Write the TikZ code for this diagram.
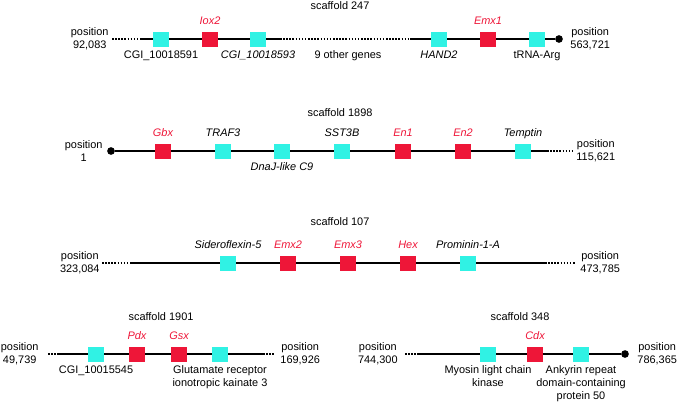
\documentclass[tikz,border=0pt]{standalone}
\usepackage{fontspec}
\setmainfont{Liberation Sans}
\usetikzlibrary{positioning}
\definecolor{hxRed}{RGB}{238,22,56}
\definecolor{nbCyan}{RGB}{48,242,228}
\newcommand\lblsize{\fontsize{9.3}{11}\selectfont}
\tikzset{
  gene/.style={rectangle, inner sep=0pt, minimum width=13.6pt, minimum height=12.75pt},
  hox/.style={gene, fill=hxRed},
  nbr/.style={gene, fill=nbCyan},
  backbone/.style={line width=1.25pt},
  gapline/.style={line width=1.25pt, dash pattern=on 1.3pt off 1.35pt},
  enddot/.style={circle, fill=black, inner sep=0pt, minimum size=6.5pt},
  posnote/.style={align=center, inner sep=1pt, font=\lblsize},
  ital/.style={font=\lblsize\itshape},
  hoxname/.style={font=\lblsize\itshape, text=hxRed},
  uplbl/.style={above=5.5pt of #1.north, anchor=base, inner sep=0pt},
  downlbl/.style={below=3pt of #1.south, inner sep=0pt, align=center}
}
\begin{document}
\begin{tikzpicture}[x=0.85pt, y=-0.85pt, font=\lblsize]
  \useasboundingbox (0,0) rectangle (680,405);

  % scaffold 247
  \node (t247) at (340,6) {scaffold 247};
  \node[posnote, anchor=east] (p247a) at (110,39) {position\\92,083};
  \node[posnote, anchor=west] (p247b) at (569,39) {position\\563,721};
  \coordinate (s247a) at (112,39);
  \coordinate (s247b) at (140,39);
  \coordinate (s247c) at (280,39);
  \coordinate (s247d) at (410,39);
  \node[enddot] (e247) at (559,39) {};
  \node[nbr] (cgiA) at (161,39) {};
  \node[hox] (iox) at (210,39) {};
  \node[nbr] (cgiB) at (258,39) {};
  \node[nbr] (hand) at (439,39) {};
  \node[hox] (emxA) at (488,39) {};
  \node[nbr] (trna) at (537,39) {};
  \draw[gapline] (s247a) -- (s247b);
  \draw[backbone] (s247b) -- (cgiA) -- (iox) -- (cgiB) -- (s247c);
  \draw[gapline] (s247c) -- (s247d);
  \draw[backbone] (s247d) -- (hand) -- (emxA) -- (trna) -- (e247);
  \node[downlbl=cgiA] (cgiA-l) {CGI\_10018591};
  \node[uplbl=iox, hoxname] (iox-l) {Iox2};
  \node[downlbl=cgiB, ital] (cgiB-l) {CGI\_10018593};
  \node[inner sep=0pt, anchor=north] (other-l) at (348,50) {9 other genes};
  \node[downlbl=hand, ital] (hand-l) {HAND2};
  \node[uplbl=emxA, hoxname] (emxA-l) {Emx1};
  \node[downlbl=trna] (trna-l) {tRNA-Arg};

  % scaffold 1898
  \node (t1898) at (340,113) {scaffold 1898};
  \node[posnote, anchor=east] (p1898a) at (104,151) {position\\1};
  \node[posnote, anchor=west] (p1898b) at (575,151) {position\\115,621};
  \node[enddot] (e1898) at (111,151) {};
  \coordinate (s1898a) at (547,151);
  \coordinate (s1898b) at (572,151);
  \node[hox] (gbx) at (163,151) {};
  \node[nbr] (traf) at (223,151) {};
  \node[nbr] (dnaj) at (282,151) {};
  \node[nbr] (sst) at (342,151) {};
  \node[hox] (enA) at (403,151) {};
  \node[hox] (enB) at (463,151) {};
  \node[nbr] (tempt) at (523,151) {};
  \draw[backbone] (e1898) -- (gbx) -- (traf) -- (dnaj) -- (sst) -- (enA) -- (enB) -- (tempt) -- (s1898a);
  \draw[gapline] (s1898a) -- (s1898b);
  \node[uplbl=gbx, hoxname] (gbx-l) {Gbx};
  \node[uplbl=traf, ital] (traf-l) {TRAF3};
  \node[downlbl=dnaj, ital] (dnaj-l) {DnaJ-like C9};
  \node[uplbl=sst, ital] (sst-l) {SST3B};
  \node[uplbl=enA, hoxname] (enA-l) {En1};
  \node[uplbl=enB, hoxname] (enB-l) {En2};
  \node[uplbl=tempt, ital] (tempt-l) {Temptin};

  % scaffold 107
  \node (t107) at (340,222) {scaffold 107};
  \node[posnote, anchor=east] (p107a) at (101,263) {position\\323,084};
  \node[posnote, anchor=west] (p107b) at (579,263) {position\\473,785};
  \coordinate (s107a) at (102,263);
  \coordinate (s107b) at (132,263);
  \coordinate (s107c) at (545,263);
  \coordinate (s107d) at (575,263);
  \node[nbr] (sfxn) at (228,263) {};
  \node[hox] (emxB) at (288,263) {};
  \node[hox] (emxC) at (348,263) {};
  \node[hox] (hex) at (408,263) {};
  \node[nbr] (prom) at (468,263) {};
  \draw[gapline] (s107a) -- (s107b);
  \draw[backbone] (s107b) -- (sfxn) -- (emxB) -- (emxC) -- (hex) -- (prom) -- (s107c);
  \draw[gapline] (s107c) -- (s107d);
  \node[uplbl=sfxn, ital] (sfxn-l) {Sideroflexin-5};
  \node[uplbl=emxB, hoxname] (emxB-l) {Emx2};
  \node[uplbl=emxC, hoxname] (emxC-l) {Emx3};
  \node[uplbl=hex, hoxname] (hex-l) {Hex};
  \node[uplbl=prom, ital] (prom-l) {Prominin-1-A};

  % scaffold 1901
  \node (t1901) at (161,317) {scaffold 1901};
  \node[posnote, anchor=east] (p1901a) at (40,354) {position\\49,739};
  \node[posnote, anchor=west] (p1901b) at (279,354) {position\\169,926};
  \coordinate (s1901a) at (48,354);
  \coordinate (s1901b) at (57,354);
  \coordinate (s1901c) at (263,354);
  \coordinate (s1901d) at (275,354);
  \node[nbr] (cgiC) at (96,354) {};
  \node[hox] (pdx) at (137,354) {};
  \node[hox] (gsx) at (179,354) {};
  \node[nbr] (grik) at (220,354) {};
  \draw[gapline] (s1901a) -- (s1901b);
  \draw[backbone] (s1901b) -- (cgiC) -- (pdx) -- (gsx) -- (grik) -- (s1901c);
  \draw[gapline] (s1901c) -- (s1901d);
  \node[downlbl=cgiC] (cgiC-l) {CGI\_10015545};
  \node[uplbl=pdx, hoxname] (pdx-l) {Pdx};
  \node[uplbl=gsx, hoxname] (gsx-l) {Gsx};
  \node[downlbl=grik] (grik-l) {Glutamate receptor\\ionotropic kainate 3};

  % scaffold 348
  \node (t348) at (520,317) {scaffold 348};
  \node[posnote, anchor=west] (p348b) at (636,354) {position\\786,365};
  \node[posnote, anchor=east] (p348a) at (399,354) {position\\744,300};
  \coordinate (s348a) at (405,354);
  \coordinate (s348b) at (417,354);
  \node[enddot] (e348) at (625,354) {};
  \node[nbr] (mlck) at (488,354) {};
  \node[hox] (cdx) at (535,354) {};
  \node[nbr] (ankr) at (581,354) {};
  \draw[gapline] (s348a) -- (s348b);
  \draw[backbone] (s348b) -- (mlck) -- (cdx) -- (ankr) -- (e348);
  \node[downlbl=mlck] (mlck-l) {Myosin light chain\\kinase};
  \node[uplbl=cdx, hoxname] (cdx-l) {Cdx};
  \node[downlbl=ankr] (ankr-l) {Ankyrin repeat\\domain-containing\\protein 50};
\end{tikzpicture}
\end{document}
